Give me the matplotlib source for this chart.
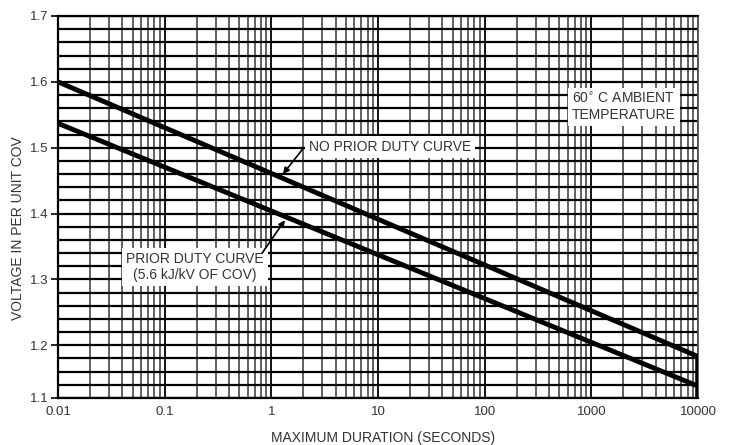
import numpy as np
import matplotlib
matplotlib.use("Agg")
import matplotlib.pyplot as plt
from matplotlib.ticker import LogLocator, MultipleLocator, NullFormatter

plt.rcParams['font.family'] = ['Liberation Sans', 'DejaVu Sans']

# Data (straight lines on log-time axis)
duration = [0.01, 10000]
no_prior_duty = [1.600, 1.183]
prior_duty = [1.537, 1.138]

# Axis ticks (bottom tick of the original grid sits one minor step above 1.1)
y_ticks = [1.12, 1.2, 1.3, 1.4, 1.5, 1.6, 1.7]
y_tick_labels = ['1.1', '1.2', '1.3', '1.4', '1.5', '1.6', '1.7']
x_ticks = [0.01, 0.1, 1, 10, 100, 1000, 10000]
x_tick_labels = ['0.01', '0.1', '1', '10', '100', '1000', '10000']

txt = '#333333'

fig = plt.figure(figsize=(7.32, 4.45), dpi=100)
ax = fig.add_axes([58 / 732, 1 - 398 / 445, 640 / 732, 382 / 445])

ax.set_xscale('log')
ax.set_xlim(0.01, 10000)
ax.set_ylim(1.12, 1.7)

ax.set_xticks(x_ticks)
ax.set_xticklabels(x_tick_labels)
ax.xaxis.set_minor_locator(LogLocator(base=10, subs=np.arange(2, 10)))
ax.xaxis.set_minor_formatter(NullFormatter())
ax.set_yticks(y_ticks)
ax.set_yticklabels(y_tick_labels)
ax.yaxis.set_minor_locator(MultipleLocator(0.02))

ax.tick_params(axis='x', which='both', length=0, pad=6, labelsize=9.5, labelcolor=txt)
ax.tick_params(axis='y', which='major', length=5, width=1.2, pad=2, labelsize=9.5, labelcolor=txt)
ax.tick_params(axis='y', which='minor', length=0)

# grid: black horizontals, grey verticals
ax.grid(axis='y', which='both', color='black', lw=1.6)
ax.grid(axis='x', which='minor', color='#555555', lw=1.3)
ax.grid(axis='x', which='major', color='black', lw=1.3)
ax.set_axisbelow(True)

for s in ['left', 'bottom', 'top']:
    ax.spines[s].set_linewidth(1.6)
    ax.spines[s].set_color('black')
ax.spines['right'].set_linewidth(1.3)
ax.spines['right'].set_color('#555555')

# curves
ax.plot(duration, no_prior_duty, color='black', lw=3.5, solid_capstyle='butt', zorder=3)
ax.plot(duration, prior_duty, color='black', lw=3.5, solid_capstyle='butt', zorder=3)
ax.plot([duration[-1], duration[-1]], [1.12, no_prior_duty[-1]], color='black', lw=4, zorder=3)

box = dict(facecolor='white', edgecolor='none', pad=3)
arrow = dict(arrowstyle='-|>', color='black', lw=1.2, mutation_scale=9, shrinkA=0, shrinkB=0)

ax.text(12.9, 1.501, 'NO PRIOR DUTY CURVE', ha='center', va='center',
        fontsize=10, color=txt, bbox=box, zorder=4)
ax.annotate('', xy=(1.285, 1.46), xytext=(2.0, 1.4995), arrowprops=arrow, zorder=5)

ax.text(0.192, 1.319, 'PRIOR DUTY CURVE\n(5.6 kJ/kV OF COV)', ha='center', va='center',
        fontsize=10, color=txt, bbox=box, linespacing=1.15, zorder=4)
ax.annotate('', xy=(1.34, 1.39), xytext=(0.82, 1.340), arrowprops=arrow, zorder=5)

ax.text(2020, 1.562, '60$^{\\circ}$ C AMBIENT\nTEMPERATURE', ha='center', va='center',
        fontsize=10, color=txt, bbox=box, linespacing=1.15, zorder=4)

ax.set_xlabel('MAXIMUM DURATION (SECONDS)', fontsize=10, color=txt)
ax.set_ylabel('VOLTAGE IN PER UNIT COV', fontsize=10, color=txt)
ax.xaxis.set_label_coords(0.508, -0.086)
ax.yaxis.set_label_coords(-0.052, 0.446)

fig.savefig('out.png', dpi=100)
